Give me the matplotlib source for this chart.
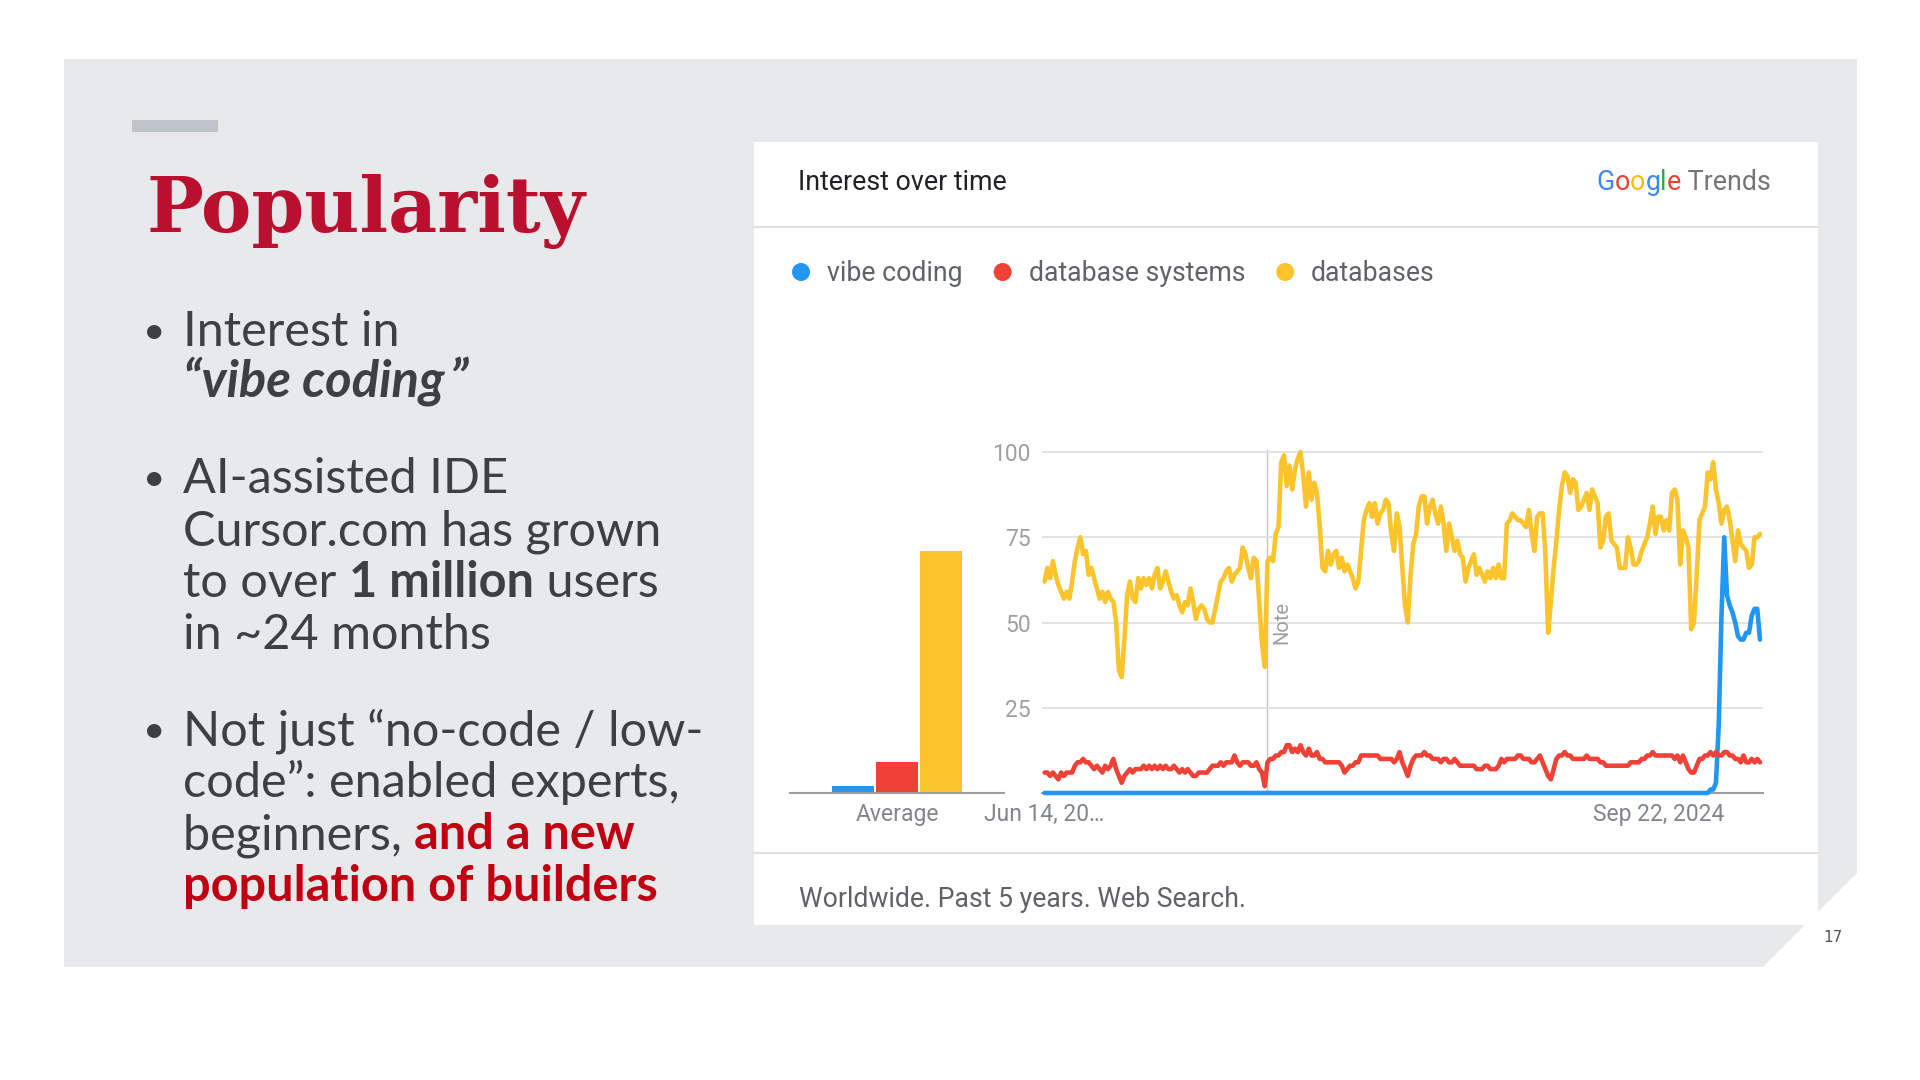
import matplotlib
matplotlib.use('Agg')
import matplotlib.pyplot as plt
from matplotlib.patches import Polygon, Rectangle, Circle
import pandas as pd

W, H = 1920, 1080

# ---- data ----
series_names = ['vibe coding', 'database systems', 'databases']
series_colors = ['#2196f3', '#ef4136', '#fcc42c']
averages = [2, 9, 71]
weeks = pd.date_range('2020-06-14', periods=261, freq='7D')

vibe_coding = [
    0, 0, 0, 0, 0, 0, 0, 0, 0, 0, 0, 0, 0, 0, 0, 0, 0, 0, 0, 0, 0, 0, 0, 0, 0, 0, 0, 0, 0, 0,
    0, 0, 0, 0, 0, 0, 0, 0, 0, 0, 0, 0, 0, 0, 0, 0, 0, 0, 0, 0, 0, 0, 0, 0, 0, 0, 0, 0, 0, 0,
    0, 0, 0, 0, 0, 0, 0, 0, 0, 0, 0, 0, 0, 0, 0, 0, 0, 0, 0, 0, 0, 0, 0, 0, 0, 0, 0, 0, 0, 0,
    0, 0, 0, 0, 0, 0, 0, 0, 0, 0, 0, 0, 0, 0, 0, 0, 0, 0, 0, 0, 0, 0, 0, 0, 0, 0, 0, 0, 0, 0,
    0, 0, 0, 0, 0, 0, 0, 0, 0, 0, 0, 0, 0, 0, 0, 0, 0, 0, 0, 0, 0, 0, 0, 0, 0, 0, 0, 0, 0, 0,
    0, 0, 0, 0, 0, 0, 0, 0, 0, 0, 0, 0, 0, 0, 0, 0, 0, 0, 0, 0, 0, 0, 0, 0, 0, 0, 0, 0, 0, 0,
    0, 0, 0, 0, 0, 0, 0, 0, 0, 0, 0, 0, 0, 0, 0, 0, 0, 0, 0, 0, 0, 0, 0, 0, 0, 0, 0, 0, 0, 0,
    0, 0, 0, 0, 0, 0, 0, 0, 0, 0, 0, 0, 0, 0, 0, 0, 0, 0, 0, 0, 0, 0, 0, 0, 0, 0, 0, 0, 0, 0,
    0, 0, 1, 1, 3, 20, 52, 75, 58, 55, 53, 50, 46, 45, 45, 47, 47, 52, 54, 54, 45,
]

database_systems = [
    6, 6, 5, 6, 5, 4, 6, 5, 6, 6,
    6, 8, 9, 9, 10, 9, 9, 8, 7, 8,
    7, 6, 8, 7, 8, 10, 7, 5, 3, 5,
    6, 7, 6, 7, 7, 7, 8, 7, 8, 7,
    8, 7, 8, 7, 8, 7, 7, 8, 7, 6,
    7, 6, 7, 6, 5, 5, 6, 6, 6, 6,
    7, 8, 8, 8, 9, 8, 9, 9, 9, 11,
    9, 8, 9, 9, 9, 8, 8, 9, 7, 6,
    2, 9, 10, 10, 11, 11, 12, 12, 14, 14,
    12, 13, 12, 14, 12, 11, 13, 11, 11, 12,
    10, 10, 9, 9, 9, 9, 9, 9, 8, 6,
    7, 8, 8, 9, 9, 11, 11, 11, 11, 11,
    11, 11, 10, 10, 10, 10, 10, 9, 10, 12,
    9, 7, 5, 8, 10, 11, 11, 11, 12, 11,
    11, 10, 10, 10, 9, 10, 10, 9, 9, 10,
    9, 8, 8, 8, 8, 8, 8, 7, 7, 7,
    8, 8, 7, 7, 7, 8, 10, 9, 10, 10,
    10, 10, 11, 11, 10, 10, 10, 9, 9, 10,
    11, 9, 7, 5, 4, 7, 10, 11, 11, 12,
    11, 11, 10, 10, 10, 10, 10, 11, 10, 10,
    10, 10, 9, 9, 8, 8, 8, 8, 8, 8,
    8, 8, 8, 9, 9, 9, 9, 10, 10, 11,
    11, 12, 11, 11, 11, 11, 11, 11, 11, 10,
    11, 9, 11, 9, 7, 6, 6, 8, 10, 10,
    11, 11, 12, 11, 12, 11, 11, 12, 12, 11,
    11, 10, 10, 9, 11, 9, 9, 10, 9, 10, 9,
]

databases = [
    62, 66, 63, 68, 64, 61, 59, 57, 59, 57,
    62, 68, 72, 75, 70, 71, 64, 66, 63, 60,
    57, 59, 56, 59, 57, 56, 50, 36, 34, 45,
    58, 62, 57, 56, 63, 60, 63, 61, 63, 60,
    64, 66, 60, 62, 65, 62, 59, 57, 58, 55,
    53, 56, 55, 60, 56, 51, 54, 55, 54, 51,
    50, 50, 54, 58, 62, 63, 65, 66, 62, 64,
    65, 66, 72, 70, 66, 63, 69, 68, 56, 44,
    37, 68, 69, 68, 76, 78, 97, 99, 90, 96,
    89, 95, 98, 100, 93, 84, 94, 86, 91, 88,
    78, 66, 65, 71, 67, 70, 71, 66, 69, 65,
    67, 65, 63, 60, 62, 71, 80, 83, 85, 81,
    85, 79, 82, 83, 86, 85, 76, 71, 82, 78,
    66, 55, 50, 64, 73, 76, 84, 87, 87, 79,
    84, 86, 82, 79, 84, 79, 71, 79, 75, 71,
    74, 70, 69, 62, 66, 68, 70, 64, 66, 64,
    62, 65, 63, 66, 63, 67, 63, 63, 79, 80,
    82, 81, 80, 80, 79, 78, 83, 76, 71, 81,
    82, 82, 70, 47, 56, 66, 74, 83, 90, 94,
    93, 88, 92, 91, 83, 84, 86, 88, 83, 89,
    87, 85, 72, 74, 81, 82, 74, 73, 72, 66,
    66, 66, 75, 72, 67, 67, 68, 71, 73, 75,
    79, 84, 76, 81, 81, 77, 80, 77, 88, 89,
    86, 67, 77, 75, 72, 48, 50, 64, 80, 82,
    84, 94, 92, 97, 89, 85, 79, 83, 84, 80,
    74, 68, 77, 73, 72, 71, 66, 67, 75, 75, 76,
]

y_ticks = [25, 50, 75, 100]
x_tick_dates = ['2020-06-14', '2024-09-22']
x_tick_labels = ['Jun 14, 20…', 'Sep 22, 2024']
note_date = pd.Timestamp('2022-01-02')

GREY_TXT = '#3c4043'
RED_TXT = '#c00012'

fig = plt.figure(figsize=(19.2, 10.8), dpi=100)
fig.patch.set_facecolor('white')
bg = fig.add_axes([0, 0, 1, 1])
bg.set_xlim(0, W)
bg.set_ylim(H, 0)
bg.axis('off')
renderer = fig.canvas.get_renderer()


def px_axes(l, t, r, b):
    return fig.add_axes([l / W, 1 - b / H, (r - l) / W, (b - t) / H])


def text_width(s, **kw):
    # sentinels keep leading/trailing spaces in the measure
    t = bg.text(0, 0, '|' + s + '|', **kw)
    a = t.get_window_extent(renderer).width
    t.remove()
    t = bg.text(0, 0, '||', **kw)
    b = t.get_window_extent(renderer).width
    t.remove()
    return a - b


def run(x, y, pieces, **base):
    for s, kw in pieces:
        style = dict(base, **kw)
        bg.text(x, y, s, va='baseline', ha='left', **style)
        x += text_width(s, **style)
    return x


# ---- slide background ----
bg.add_patch(Polygon([(64, 59), (1857, 59), (1857, 873), (1763, 967), (64, 967)],
                     closed=True, fc='#e8e9eb', ec='none'))
bg.add_patch(Rectangle((132, 120), 86, 12, fc='#bfc4ca', ec='none'))
bg.text(146, 232, 'Popularity', family='DejaVu Serif', weight='bold', fontsize=54.5,
        color='#b8102e', va='baseline')

left = dict(fontsize=35, family='Lato', color=GREY_TXT)
bold = dict(weight='bold')
red_bold = dict(weight='bold', color=RED_TXT)
bi = dict(weight='bold', style='italic', fontsize=36.5)
lines = [
    (346, [('Interest in', {})], True),
    (396, [('“vibe coding', bi), (' ', dict(bi, fontsize=16)), ('”', bi)], False),
    (493, [('AI-assisted IDE', {})], True),
    (545, [('Cursor.com has grown', {})], False),
    (597, [('to over ', {}), ('1 million', bold), (' users', {})], False),
    (649, [('in ~24 months', {})], False),
    (745, [('Not just “no-code / low-', {})], True),
    (797, [('code”: enabled experts,', {})], False),
    (849, [('beginners, ', {}), ('and a new', red_bold)], False),
    (901, [('population of builders', red_bold)], False),
]
for y, pieces, bullet in lines:
    if bullet:
        bg.text(154, y - 3, '•', ha='center', va='baseline', fontsize=28, family='Lato',
                color=GREY_TXT)
    run(183, y, pieces, **left)

# ---- Google Trends card ----
bg.add_patch(Rectangle((754, 142), 1064, 783, fc='white', ec='none'))
bg.plot([754, 1818], [227, 227], color='#e0e0e0', lw=1.5)
bg.plot([754, 1818], [853, 853], color='#e0e0e0', lw=1.5)

card = dict(family='Roboto')
bg.text(798, 190, 'Interest over time', fontsize=19.3, color='#202124', va='baseline', **card)

logo = [('G', dict(color='#4285f4')), ('o', dict(color='#ea4335')), ('o', dict(color='#fbbc05')),
        ('g', dict(color='#4285f4')), ('l', dict(color='#34a853')), ('e', dict(color='#ea4335')),
        (' Trends', dict(color='#757575'))]
logo_w = sum(text_width(s, fontsize=19.3, **card, **kw) for s, kw in logo)
run(1771 - logo_w, 190, logo, fontsize=19.3, **card)

lx = 801
for name, color in zip(series_names, series_colors):
    bg.add_patch(Circle((lx, 272), 9, fc=color, ec='none'))
    end = run(lx + 26, 281, [(name, {})], fontsize=19.2, color='#5f6368', **card)
    lx = end + 40

bg.text(799, 907, 'Worldwide. Past 5 years. Web Search.', fontsize=19.2, color='#5f6368',
        va='baseline', **card)
bg.text(1833, 938, '17', fontsize=11, color='#555555', ha='center', va='center',
        family='DejaVu Sans')

# ---- line chart ----
y_top = 100.5
ax = px_axes(1041.85, 793 - y_top * 3.41, 1762.75, 793)
ax.set_facecolor('none')
for name, vals, color in zip(series_names, [vibe_coding, database_systems, databases], series_colors):
    ax.plot(weeks, vals, color=color, lw=3.3, clip_on=False, zorder=3,
            solid_joinstyle='round', solid_capstyle='round', label=name)
ax.set_xlim(weeks[0] - pd.Timedelta(days=7), weeks[-1] + pd.Timedelta(days=7))
ax.set_ylim(0, y_top)
ax.set_yticks(y_ticks)
ax.set_yticklabels([str(v) for v in y_ticks], family='Roboto')
ax.set_xticks(pd.to_datetime(x_tick_dates))
ax.set_xticklabels(x_tick_labels, family='Roboto')
ax.grid(axis='y', color='#e0e0e0', lw=1.3)
ax.grid(axis='x', visible=False)
for side in ['top', 'right', 'left']:
    ax.spines[side].set_visible(False)
ax.spines['bottom'].set_color('#9e9e9e')
ax.spines['bottom'].set_linewidth(1.5)
ax.tick_params(axis='y', length=0, labelsize=16.5, labelcolor='#a0a0a0', pad=8)
ax.tick_params(axis='x', length=0, labelsize=16.5, labelcolor='#80868b', pad=7)
ax.axvline(note_date, color='#c4c4c4', lw=1, zorder=1)
ax.annotate('Note', xy=(note_date, 50), xytext=(14, 0), textcoords='offset pixels',
            rotation=90, ha='center', va='center', fontsize=14.5, color='#9e9e9e', family='Roboto')

# ---- average bars ----
bx = px_axes(790, 793 - y_top * 3.41, 1004, 793)
bx.set_facecolor('none')
bx.bar(range(len(averages)), averages, width=0.96, color=series_colors)
bx.set_xlim(-1.451, 3.44)
bx.set_ylim(0, y_top)
bx.set_yticks([])
bx.set_xticks([1])
bx.set_xticklabels(['Average'], family='Roboto')
for side in ['top', 'right', 'left']:
    bx.spines[side].set_visible(False)
bx.spines['bottom'].set_color('#9e9e9e')
bx.spines['bottom'].set_linewidth(1.5)
bx.tick_params(axis='x', length=0, labelsize=16.5, labelcolor='#80868b', pad=7)

fig.savefig('out.png', dpi=100)
